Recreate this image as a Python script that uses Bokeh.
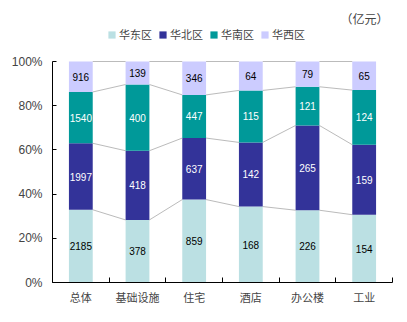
from bokeh.plotting import figure
from bokeh.models import ColumnDataSource, FixedTicker, Legend, LegendItem, Label
from bokeh.core.properties import value
from bokeh.embed import file_html
from bokeh.resources import INLINE

categories = ["总体", "基础设施", "住宅", "酒店", "办公楼", "工业"]
series = ["华东区", "华北区", "华南区", "华西区"]
east = [2185, 378, 859, 168, 226, 154]
north = [1997, 418, 637, 142, 265, 159]
south = [1540, 400, 447, 115, 121, 124]
west = [916, 139, 346, 64, 79, 65]
colors = ["#BBE0E3", "#333399", "#009999", "#CCCCFF"]
text_colors = ["black", "white", "white", "black"]
y_ticks = [0, 0.2, 0.4, 0.6, 0.8, 1.0]
y_labels = ["0%", "20%", "40%", "60%", "80%", "100%"]
unit = "（亿元）"

values = [east, north, south, west]
n = len(categories)
xs = list(range(n))
totals = [sum(v[i] for v in values) for i in range(n)]

CJK = "Noto Sans CJK SC"
LAT = "Liberation Sans"
BW = 0.42

p = figure(width=407, height=322, output_backend="svg", toolbar_location=None,
           x_range=(-0.5, n - 0.5), y_range=(0, 282 / 221),
           min_border_left=52, min_border_right=15, min_border_top=0, min_border_bottom=40)
p.outline_line_color = None
p.xgrid.visible = False
p.ygrid.visible = False

bottoms = [0.0] * n
renderers = []
for k, (name, vals) in enumerate(zip(series, values)):
    fr = [vals[i] / totals[i] for i in range(n)]
    tops = [bottoms[i] + fr[i] for i in range(n)]
    src = ColumnDataSource(dict(x=xs, bottom=list(bottoms), top=tops,
                                mid=[(bottoms[i] + tops[i]) / 2 for i in range(n)],
                                lab=[str(v) for v in vals]))
    r = p.vbar(x="x", bottom="bottom", top="top", width=BW, source=src,
               fill_color=colors[k], line_color=None)
    renderers.append(r)
    p.text(x="x", y="mid", text="lab", source=src, text_align="center",
           text_baseline="middle", text_font=value(LAT), text_font_size="10px",
           text_color=text_colors[k])
    # connector lines between adjacent bars
    x0 = [i + BW / 2 for i in range(n - 1)]
    x1 = [i + 1 - BW / 2 for i in range(n - 1)]
    p.segment(x0=x0, y0=tops[:-1], x1=x1, y1=tops[1:], line_color="#BBBBBB", line_width=1)
    bottoms = tops

# axes
p.xaxis.ticker = FixedTicker(ticks=xs, minor_ticks=[i + 0.5 for i in range(-1, n)])
p.xaxis.major_label_overrides = {i: c for i, c in enumerate(categories)}
p.xaxis.major_tick_line_color = None
p.xaxis.major_tick_in = 0
p.xaxis.major_tick_out = 0
p.xaxis.minor_tick_in = 5
p.xaxis.minor_tick_out = 0
p.xaxis.major_label_text_font = CJK
p.xaxis.major_label_text_font_size = "11px"
p.xaxis.major_label_standoff = 6
p.xaxis.axis_line_color = "black"

p.yaxis.ticker = FixedTicker(ticks=y_ticks, minor_ticks=[])
p.yaxis.bounds = (0, 1)
p.yaxis.major_label_overrides = {t: l for t, l in zip(y_ticks, y_labels)}
p.yaxis.major_tick_in = 4
p.yaxis.major_tick_out = 0
p.yaxis.major_label_text_font = LAT
p.yaxis.major_label_text_font_size = "12px"
p.yaxis.major_label_standoff = 10
p.yaxis.axis_line_color = "black"

legend = Legend(items=[LegendItem(label=s, renderers=[r]) for s, r in zip(series, renderers)],
                orientation="horizontal", location=(55, 240), border_line_color=None,
                background_fill_alpha=0, padding=0, margin=0, spacing=6,
                glyph_width=9, glyph_height=9, label_standoff=3,
                label_text_font=CJK, label_text_font_size="11px", label_height=12)
p.add_layout(legend, "center")

p.add_layout(Label(x=n - 0.57, y=1.195, text=unit, text_align="right", text_baseline="middle",
                   text_font=CJK, text_font_size="12px"))

open("out.html", "w").write(file_html(p, INLINE))
